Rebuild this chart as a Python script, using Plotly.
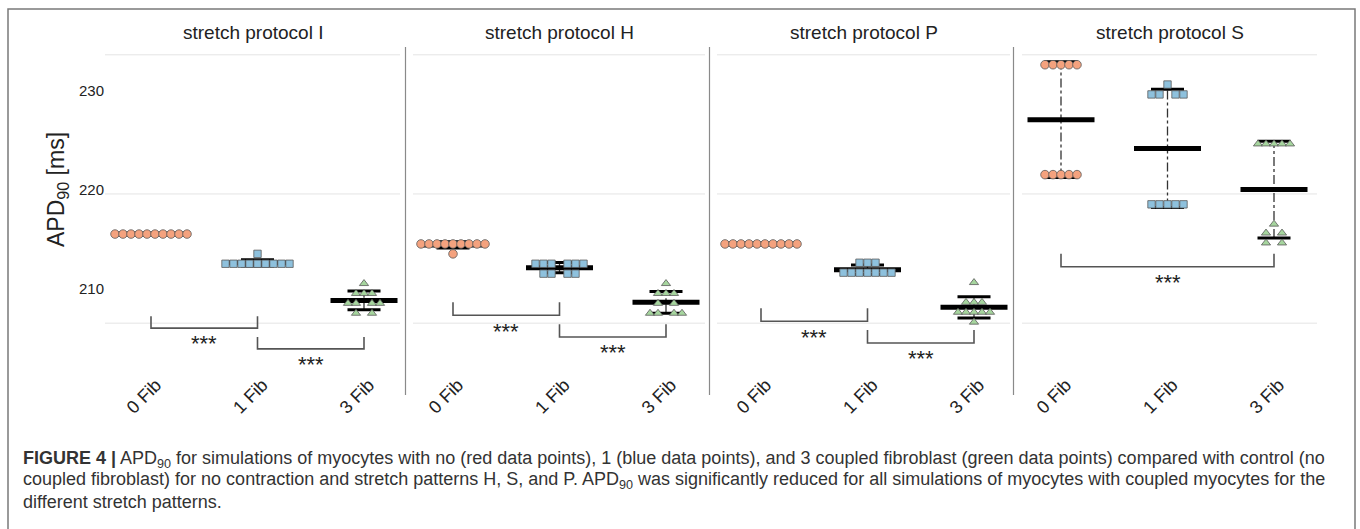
import numpy as np
import plotly.graph_objects as go

# ---------------- data ----------------
PANEL_TITLES = ["stretch protocol I", "stretch protocol H", "stretch protocol P", "stretch protocol S"]
CATEGORIES = ["0 Fib", "1 Fib", "3 Fib"]
Y_TICKS = [210, 220, 230]
Y_TITLE = "APD<sub>90</sub> [ms]"

# APD90 [ms] per simulation (10 simulations per group)
I_0FIB = [215.5, 215.5, 215.5, 215.5, 215.5, 215.5, 215.5, 215.5, 215.5, 215.5]
I_1FIB = [213.5, 212.5, 212.5, 212.5, 212.5, 212.5, 212.5, 212.5, 212.5, 212.5]
I_3FIB = [210.5, 209.5, 209.5, 209.5, 208.5, 208.5, 208.5, 208.5, 207.5, 207.5]

H_0FIB = [214.5, 214.5, 214.5, 214.5, 214.5, 214.5, 214.5, 214.5, 214.5, 213.5]
H_1FIB = [212.5, 212.5, 212.5, 212.5, 212.5, 212.5, 211.5, 211.5, 211.5, 211.5]
H_3FIB = [210.5, 209.5, 209.5, 209.5, 208.5, 208.5, 207.5, 207.5, 207.5, 207.5]

P_0FIB = [214.5, 214.5, 214.5, 214.5, 214.5, 214.5, 214.5, 214.5, 214.5, 214.5]
P_1FIB = [212.6, 212.6, 212.6, 211.6, 211.6, 211.6, 211.6, 211.6, 211.6, 211.6]
P_3FIB = [210.6, 208.6, 208.6, 208.6, 207.6, 207.6, 207.6, 207.6, 207.6, 206.6]

S_0FIB = [232.6, 232.6, 232.6, 232.6, 232.6, 221.5, 221.5, 221.5, 221.5, 221.5]
S_1FIB = [230.6, 229.6, 229.6, 229.6, 229.6, 218.5, 218.5, 218.5, 218.5, 218.5]
S_3FIB = [224.6, 224.6, 224.6, 224.6, 224.6, 216.5, 215.6, 215.6, 214.6, 214.6]

PANEL_DATA = [
    [I_0FIB, I_1FIB, I_3FIB],
    [H_0FIB, H_1FIB, H_3FIB],
    [P_0FIB, P_1FIB, P_3FIB],
    [S_0FIB, S_1FIB, S_3FIB],
]

# significance brackets: (panel, from-category, to-category, leg top, bar level, label level)
SIG_BRACKETS = [
    (0, 0, 1, 207.2, 206.0, 204.4),
    (0, 1, 2, 205.1, 203.9, 202.3),
    (1, 0, 1, 208.6, 207.3, 205.7),
    (1, 1, 2, 206.4, 205.1, 203.5),
    (2, 0, 1, 208.0, 206.7, 205.1),
    (2, 1, 2, 205.8, 204.5, 202.9),
    (3, 0, 2, 213.5, 212.2, 210.6),
]
SIG_LABEL = "***"

CAPTION = [
    "<b>FIGURE 4 |</b> APD<sub>90</sub> for simulations of myocytes with no (red data points), 1 (blue data points), "
    "and 3 coupled fibroblast (green data points) compared with control (no",
    "coupled fibroblast) for no contraction and stretch patterns H, S, and P. APD<sub>90</sub> was significantly "
    "reduced for all simulations of myocytes with coupled myocytes for the",
    "different stretch patterns.",
]

# ---------------- layout constants ----------------
W, H = 1360, 529
FONT = "Liberation Sans, Arial, Helvetica, sans-serif"
PX_PER_UNIT = 106.5                     # horizontal px per category step
PANEL_PX = [(105, 400, 151), (413, 705, 453), (717, 1010, 761), (1022, 1317, 1061)]  # left, right, first category
DIVIDERS_PX = [405.5, 709.5, 1013.5]
PLOT_TOP_PX, PLOT_BOT_PX = 47, 370
Y_RANGE = [201.77, 234.39]
GRID_LEVELS = [233.6, 219.55, 206.5]
DOT_STEP_PX = 8.0
LINE_EW_SCALE = 1.4                     # plotly draws line-ew markers 1.4 x size long
MEAN_BAR_PX, SD_BAR_PX = 67, 33

MARKERS = [
    dict(symbol="circle", size=8.6, color="#F4A27E"),
    dict(symbol="square", size=7.4, color="#8EC1DD"),
    dict(symbol="triangle-up", size=8.0, color="#A6D59E"),
]


def px(x):
    return x / W


def py(y):
    return 1 - y / H


def swarm_offsets(values, step):
    vals = np.asarray(values, dtype=float)
    offs = np.zeros(len(vals))
    for v in np.unique(vals):
        idx = np.where(vals == v)[0]
        n = len(idx)
        if n % 2 == 0 and n <= 6:
            half = n // 2
            slots = list(range(-half, 0)) + list(range(1, half + 1))
        else:
            slots = [k - (n - 1) / 2 for k in range(n)]
        offs[idx] = np.array(slots, dtype=float) * step
    return offs


fig = go.Figure()
shapes = []
annotations = []
point_traces = []

for p, groups in enumerate(PANEL_DATA):
    xa = "x" if p == 0 else f"x{p + 1}"
    step = DOT_STEP_PX / PX_PER_UNIT
    for c, vals in enumerate(groups):
        arr = np.asarray(vals, dtype=float)
        m = arr.mean()
        s = arr.std(ddof=1)
        # dash-dot SD line
        fig.add_trace(go.Scatter(x=[c, c], y=[m - s, m + s], xaxis=xa, yaxis="y", mode="lines",
                                 line=dict(color="#333333", width=1.3, dash="dashdot"),
                                 hoverinfo="skip", showlegend=False))
        # SD caps
        fig.add_trace(go.Scatter(x=[c, c], y=[m - s, m + s], xaxis=xa, yaxis="y", mode="markers",
                                 marker=dict(symbol="line-ew", size=SD_BAR_PX / LINE_EW_SCALE,
                                             line=dict(width=3, color="black")),
                                 hoverinfo="skip", showlegend=False))
        # mean bar
        fig.add_trace(go.Scatter(x=[c], y=[m], xaxis=xa, yaxis="y", mode="markers",
                                 marker=dict(symbol="line-ew", size=MEAN_BAR_PX / LINE_EW_SCALE,
                                             line=dict(width=5, color="black")),
                                 hoverinfo="skip", showlegend=False))
        mk = MARKERS[c]
        point_traces.append(go.Scatter(
            x=c + swarm_offsets(arr, step), y=arr, xaxis=xa, yaxis="y", mode="markers",
            marker=dict(symbol=mk["symbol"], size=mk["size"], color=mk["color"],
                        line=dict(color="#5a5a5a", width=0.8)),
            showlegend=False, name=CATEGORIES[c]))

for tr in point_traces:
    fig.add_trace(tr)

layout_axes = {}
for p, (L, R, c0) in enumerate(PANEL_PX):
    key = "xaxis" if p == 0 else f"xaxis{p + 1}"
    layout_axes[key] = dict(
        domain=[px(L), px(R)],
        range=[(L - c0) / PX_PER_UNIT, (R - c0) / PX_PER_UNIT],
        anchor="y", tickmode="array", tickvals=[0, 1, 2], ticktext=CATEGORIES,
        tickangle=-45, tickfont=dict(size=18, color="#222222", family=FONT),
        ticklabelshift=5,
        showgrid=False, zeroline=False, showline=False, ticks="", fixedrange=True,
    )
    xref = "x" if p == 0 else f"x{p + 1}"
    for g in GRID_LEVELS:
        shapes.append(dict(type="line", xref=f"{xref} domain", yref="y", x0=0, x1=1, y0=g, y1=g,
                           line=dict(color="#e4e4e4", width=1), layer="below"))
    annotations.append(dict(text=PANEL_TITLES[p], xref="paper", yref="paper",
                            x=px((L + R) / 2), y=py(32), xanchor="center", yanchor="middle",
                            showarrow=False, font=dict(size=19, color="#222222", family=FONT)))

for xd in DIVIDERS_PX:
    shapes.append(dict(type="line", xref="paper", yref="paper", x0=px(xd), x1=px(xd),
                       y0=py(47), y1=py(395), line=dict(color="#8a8a8a", width=1.2)))

# figure frame
shapes.append(dict(type="rect", xref="paper", yref="paper", x0=px(8), x1=px(1355), y0=-0.2, y1=py(9),
                   line=dict(color="#7a7a7a", width=1.5)))

for (p, a, b, top, bar, lab) in SIG_BRACKETS:
    xref = "x" if p == 0 else f"x{p + 1}"
    shapes.append(dict(type="path", xref=xref, yref="y",
                       path=f"M {a},{top} L {a},{bar} L {b},{bar} L {b},{top}",
                       line=dict(color="#555555", width=1.6)))
    annotations.append(dict(text=SIG_LABEL, xref=xref, yref="y", x=(a + b) / 2, y=lab,
                            xanchor="center", yanchor="middle", showarrow=False,
                            font=dict(size=22, color="#222222", family=FONT)))

annotations.append(dict(text=Y_TITLE, xref="paper", yref="paper", x=px(57), y=py(189),
                        xanchor="center", yanchor="middle", textangle=-90, showarrow=False,
                        font=dict(size=23, color="#222222", family=FONT)))

for i, line in enumerate(CAPTION):
    annotations.append(dict(text=line, xref="paper", yref="paper", x=px(21), y=py(459 + 21.5 * i),
                            xanchor="left", yanchor="middle", showarrow=False, align="left",
                            font=dict(size=18, color="#333333", family=FONT)))

fig.update_layout(
    width=W, height=H, margin=dict(l=0, r=0, t=0, b=0),
    paper_bgcolor="white", plot_bgcolor="white", showlegend=False,
    yaxis=dict(domain=[py(PLOT_BOT_PX), py(PLOT_TOP_PX)], range=Y_RANGE, anchor="x",
               tickmode="array", tickvals=Y_TICKS, tickfont=dict(size=15, color="#222222", family=FONT),
               showgrid=False, zeroline=False, showline=False, ticks="", fixedrange=True),
    shapes=shapes, annotations=annotations,
    **layout_axes,
)

fig.write_html("out.html")
